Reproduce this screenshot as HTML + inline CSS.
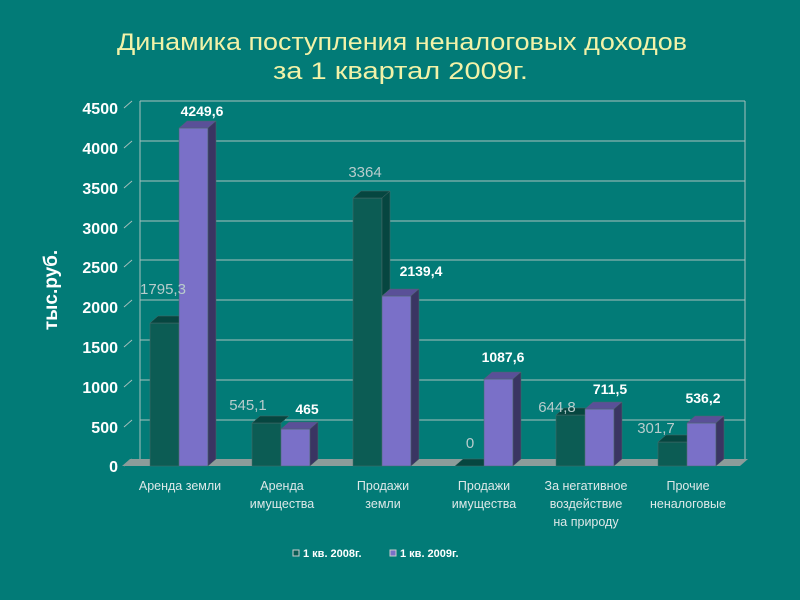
<!DOCTYPE html>
<html><head><meta charset="utf-8"><style>
body{margin:0;background:#027b77;}
svg{display:block;font-family:"Liberation Sans",sans-serif;}
</style></head><body>
<svg width="800" height="600" viewBox="0 0 800 600">
<rect width="800" height="600" fill="#027b77"/>
<text x="117" y="50" font-size="24" fill="#f2f2a8" textLength="570" lengthAdjust="spacingAndGlyphs">Динамика поступления неналоговых доходов</text>
<text x="273" y="79" font-size="24" fill="#f2f2a8" textLength="255" lengthAdjust="spacingAndGlyphs">за 1 квартал 2009г.</text>
<g stroke="#a8c0bc" stroke-width="1" fill="none">
<line x1="140" y1="101" x2="745" y2="101"/>
<line x1="140" y1="141" x2="745" y2="141"/>
<line x1="140" y1="181" x2="745" y2="181"/>
<line x1="140" y1="221" x2="745" y2="221"/>
<line x1="140" y1="260" x2="745" y2="260"/>
<line x1="140" y1="300" x2="745" y2="300"/>
<line x1="140" y1="340" x2="745" y2="340"/>
<line x1="140" y1="380" x2="745" y2="380"/>
<line x1="140" y1="420" x2="745" y2="420"/>
<line x1="140" y1="101" x2="140" y2="459"/>
<line x1="745" y1="101" x2="745" y2="459"/>
<path d="M124,108 L132,101 M124,148 L132,141 M124,188 L132,181 M124,228 L132,221 M124,267 L132,260 M124,307 L132,300 M124,347 L132,340 M124,387 L132,380 M124,427 L132,420 M124,466 L132,459"/>
</g>
<polygon points="122,466 130,459 748,459 740,466" fill="#8c9c9a"/>
<g font-size="16" font-weight="bold" fill="#fff" text-anchor="end">
<text x="118" y="114">4500</text><text x="118" y="154">4000</text><text x="118" y="194">3500</text>
<text x="118" y="234">3000</text><text x="118" y="273">2500</text><text x="118" y="313">2000</text>
<text x="118" y="353">1500</text><text x="118" y="393">1000</text><text x="118" y="433">500</text>
<text x="118" y="472">0</text>
</g>
<text transform="translate(57,290) rotate(-90)" text-anchor="middle" font-size="19" font-weight="bold" fill="#fff">тыс.руб.</text>
<g stroke="#4a6a68" stroke-width="0.5">
<rect x="150" y="323" width="29" height="143" fill="#0c5c54"/><polygon points="150,323 158,316 187,316 179,323" fill="#064640"/>
<rect x="179" y="128" width="29" height="338" fill="#7a70c8"/><polygon points="179,128 187,121 216,121 208,128" fill="#5a5098"/><polygon points="208,128 216,121 216,459 208,466" fill="#3a3562"/>
<rect x="252" y="423" width="29" height="43" fill="#0c5c54"/><polygon points="252,423 260,416 289,416 281,423" fill="#064640"/>
<rect x="281" y="429" width="29" height="37" fill="#7a70c8"/><polygon points="281,429 289,422 318,422 310,429" fill="#5a5098"/><polygon points="310,429 318,422 318,459 310,466" fill="#3a3562"/>
<rect x="353" y="198" width="29" height="268" fill="#0c5c54"/><polygon points="353,198 361,191 390,191 382,198" fill="#064640"/><polygon points="382,198 390,191 390,289 382,296" fill="#064640"/>
<rect x="382" y="296" width="29" height="170" fill="#7a70c8"/><polygon points="382,296 390,289 419,289 411,296" fill="#5a5098"/><polygon points="411,296 419,289 419,459 411,466" fill="#3a3562"/>
<polygon points="455,466 463,459 492,459 484,466" fill="#064640"/>
<rect x="484" y="379" width="29" height="87" fill="#7a70c8"/><polygon points="484,379 492,372 521,372 513,379" fill="#5a5098"/><polygon points="513,379 521,372 521,459 513,466" fill="#3a3562"/>
<rect x="556" y="415" width="29" height="51" fill="#0c5c54"/><polygon points="556,415 564,408 593,408 585,415" fill="#064640"/>
<rect x="585" y="409" width="29" height="57" fill="#7a70c8"/><polygon points="585,409 593,402 622,402 614,409" fill="#5a5098"/><polygon points="614,409 622,402 622,459 614,466" fill="#3a3562"/>
<rect x="658" y="442" width="29" height="24" fill="#0c5c54"/><polygon points="658,442 666,435 695,435 687,442" fill="#064640"/>
<rect x="687" y="423" width="29" height="43" fill="#7a70c8"/><polygon points="687,423 695,416 724,416 716,423" fill="#5a5098"/><polygon points="716,423 724,416 724,459 716,466" fill="#3a3562"/>
</g>
<g font-size="15" fill="#b8cccc" text-anchor="middle">
<text x="163" y="294">1795,3</text><text x="248" y="410">545,1</text><text x="365" y="177">3364</text>
<text x="470" y="448">0</text><text x="557" y="412">644,8</text><text x="656" y="433">301,7</text>
</g>
<g font-size="14" font-weight="bold" fill="#fff" text-anchor="middle">
<text x="202" y="116">4249,6</text><text x="307" y="414">465</text><text x="421" y="276">2139,4</text>
<text x="503" y="362">1087,6</text><text x="610" y="394">711,5</text><text x="703" y="403">536,2</text>
</g>
<g font-size="12.5" fill="#dde8e8" text-anchor="middle">
<text x="180" y="490">Аренда земли</text>
<text x="282" y="490">Аренда</text><text x="282" y="508">имущества</text>
<text x="383" y="490">Продажи</text><text x="383" y="508">земли</text>
<text x="484" y="490">Продажи</text><text x="484" y="508">имущества</text>
<text x="586" y="490">За негативное</text><text x="586" y="508">воздействие</text><text x="586" y="526">на природу</text>
<text x="688" y="490">Прочие</text><text x="688" y="508">неналоговые</text>
</g>
<rect x="293" y="550" width="6" height="6" fill="#0c5c54" stroke="#ccc" stroke-width="1"/>
<text x="303" y="557" font-size="11" font-weight="bold" fill="#fff">1 кв. 2008г.</text>
<rect x="390" y="550" width="6" height="6" fill="#7a70c8" stroke="#ccc" stroke-width="1"/>
<text x="400" y="557" font-size="11" font-weight="bold" fill="#fff">1 кв. 2009г.</text>
</svg>
</body></html>
